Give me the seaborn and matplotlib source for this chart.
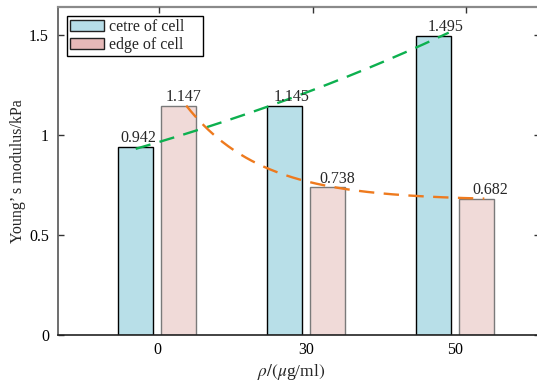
import numpy as np
import pandas as pd
import matplotlib
matplotlib.use("Agg")
import matplotlib.pyplot as plt
from matplotlib.patches import Rectangle, Patch
import seaborn as sns

# ---- data ----
concentrations = ["0", "30", "50"]
series_names = ["cetre of cell", "edge of cell"]
centre_values = [0.942, 1.145, 1.495]
edge_values = [1.147, 0.738, 0.682]
y_ticks = [0, 0.5, 1, 1.5]
y_tick_labels = ["0", "0.5", "1", "1.5"]

df = pd.DataFrame({
    "conc": concentrations * 2,
    "value": centre_values + edge_values,
    "series": [series_names[0]] * 3 + [series_names[1]] * 3,
})

sns.set_theme(style="white")
plt.rcParams["font.family"] = ["Liberation Serif", "DejaVu Serif"]
plt.rcParams["mathtext.fontset"] = "stix"
plt.rcParams["font.size"] = 11.5
FS = 11.5

fig = plt.figure(figsize=(5.37, 3.81), dpi=100)
ax = fig.add_axes([58 / 537, 46 / 381, 482 / 537, 328 / 381])

bar_colors = ["#b8dfe8", "#f0dad8"]
edge_colors = ["#000000", "#7a7a7a"]
legend_colors = ["#b7dde8", "#e6b9b8"]
sns.barplot(data=df, x="conc", y="value", hue="series", order=concentrations,
            hue_order=series_names, palette=bar_colors, width=0.57, gap=0.175,
            legend=False, ax=ax, saturation=1)

for cont, ec in zip(ax.containers, edge_colors):
    for p in cont.patches:
        p.set_edgecolor(ec)
        p.set_linewidth(1.0)


def centers(cont):
    return np.array([p.get_x() + p.get_width() / 2 for p in cont.patches])


# green trend: exponential least-squares fit (log-linear) through the centre values
cx = centers(ax.containers[0])
tk = np.arange(len(centre_values))
k_g, lna_g = np.polyfit(tk, np.log(centre_values), 1)
t = np.linspace(0, 2.1, 200)
ax.plot(cx[0] + t * (cx[1] - cx[0]), np.exp(lna_g + k_g * t), color="#0db04f",
        lw=1.7, linestyle=(0, (6.5, 4)), zorder=5)

# orange trend: exponential decay to a plateau through the edge values
y0, y1, y2 = edge_values
r = (y2 - y1) / (y1 - y0)
b = (y1 - y0) / (r - 1)
a = y0 - b
ex = centers(ax.containers[1])
t = np.linspace(0, 2.0, 200)
ax.plot(ex[0] + 0.054 + t * (ex[1] - ex[0]), a + b * r ** t, color="#ee7a1e",
        lw=1.7, linestyle=(0, (6.5, 4)), zorder=5)

ax.set_xlim(-0.664, 2.57)
ax.set_ylim(0, 1.64)
ax.set_yticks(y_ticks)
ax.set_yticklabels(y_tick_labels)

ax.set_xlabel(r"$\rho/(\mu$g/ml$)$", fontsize=12.5)
ax.set_ylabel("Young’ s modulus/kPa", fontsize=FS)
ax.xaxis.set_label_coords(0.483, -0.082)
ax.yaxis.set_label_coords(-0.066, 0.5)

for side, sp in ax.spines.items():
    sp.set_visible(True)
    sp.set_color("#555555")
    sp.set_linewidth(1.2)
ax.spines["bottom"].set_color("#222222")
ax.spines["top"].set_color("#8a8a8a")
ax.spines["top"].set_linewidth(1.6)

# secondary (overlay) axis carrying the top ticks and the value labels
ax2 = ax.twiny()
ax2.set_xlim(-0.658, 2.482)
ax2.set_xticks(range(len(concentrations)))
ax2.set_xticklabels([])
ax2.tick_params(axis="x", direction="in", top=True, bottom=False, length=4,
                width=1, colors="#333333")
for sp in ax2.spines.values():
    sp.set_visible(False)

ax.tick_params(axis="y", direction="in", left=True, right=True, length=4,
               width=1, colors="#333333", labelcolor="black", pad=6.5, labelsize=FS)
ax.tick_params(axis="x", direction="in", bottom=False, top=False, length=0,
               width=1, colors="#333333", labelcolor="black", pad=5, labelsize=FS)

for i, v in enumerate(centre_values):
    ax2.text(i - 0.135, v + 0.004, f"{v:.3f}", ha="center", va="bottom",
             fontsize=FS, zorder=6)
for i, v in enumerate(edge_values):
    ax2.text(i + 0.16, v + 0.004, f"{v:.3f}", ha="center", va="bottom",
             fontsize=FS, zorder=6)

handles = [Patch(facecolor=c, edgecolor="#222222", linewidth=1.0) for c in legend_colors]
leg = ax2.legend(handles, series_names, loc="upper left",
                 bbox_to_anchor=(0.019, 0.973), frameon=False,
                 fontsize=FS, handlelength=2.1, handleheight=0.7,
                 borderpad=0.2, labelspacing=0.12, handletextpad=0.3,
                 borderaxespad=0.0)

fig.canvas.draw()
bb = leg.get_window_extent()
inv = fig.transFigure.inverted()
(fx0, fy0), (fx1, fy1) = inv.transform([[bb.x0, bb.y0], [bb.x1 + 16, bb.y1]])
fig.add_artist(Rectangle((fx0, fy0), fx1 - fx0, fy1 - fy0, transform=fig.transFigure,
                         fill=False, edgecolor="black", lw=1.0, zorder=10))

fig.savefig("out.png", dpi=100)
